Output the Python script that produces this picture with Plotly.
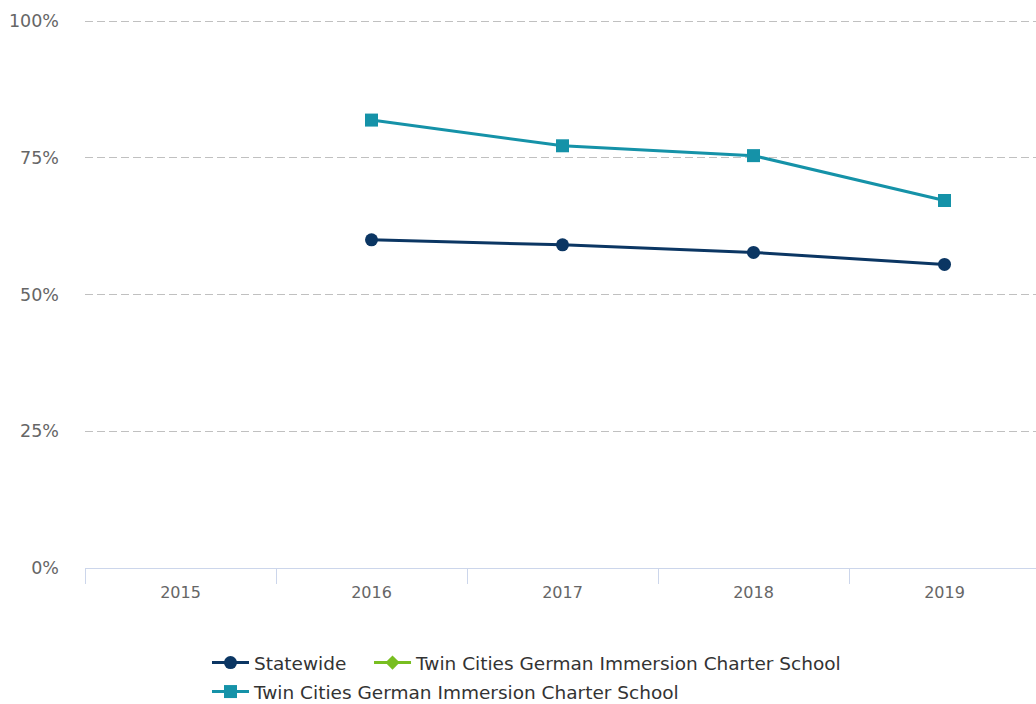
import plotly.graph_objects as go

years = ["2015", "2016", "2017", "2018", "2019"]
statewide = [None, 60.0, 59.1, 57.7, 55.5]
school_green = [None, None, None, None, None]
school_teal = [None, 81.9, 77.2, 75.4, 67.2]
y_ticks = [0, 25, 50, 75, 100]
y_labels = ["0%", "25%", "50%", "75%", "100%"]

NAVY = "#0b3663"
GREEN = "#78be20"
TEAL = "#1592a8"
FONT = "DejaVu Sans"

fig = go.Figure()
fig.add_trace(go.Scatter(
    x=years, y=statewide, name="Statewide", mode="lines+markers",
    line=dict(color=NAVY, width=3), marker=dict(symbol="circle", size=13, color=NAVY),
    legend="legend",
))
fig.add_trace(go.Scatter(
    x=years, y=school_green, name="Twin Cities German Immersion Charter School",
    mode="lines+markers", line=dict(color=GREEN, width=3),
    marker=dict(symbol="diamond", size=11, color=GREEN), legend="legend3",
))
fig.add_trace(go.Scatter(
    x=years, y=school_teal, name="Twin Cities German Immersion Charter School",
    mode="lines+markers", line=dict(color=TEAL, width=3),
    marker=dict(symbol="square", size=13, color=TEAL), legend="legend2",
))

legend_common = dict(
    orientation="h", xanchor="left", yanchor="middle",
    xref="container", yref="container",
    font=dict(family=FONT, size=18.5, color="#333333"),
    bgcolor="rgba(0,0,0,0)", itemclick=False, itemdoubleclick=False,
    itemwidth=37, tracegroupgap=0,
)

fig.update_layout(
    width=1036, height=704,
    margin=dict(l=85, r=0, t=20, b=136, autoexpand=False),
    plot_bgcolor="white", paper_bgcolor="white",
    font=dict(family=FONT),
    showlegend=True,
    legend=dict(x=0.1998, y=0.0582, **legend_common),
    legend3=dict(x=0.3562, y=0.0582, **legend_common),
    legend2=dict(x=0.1998, y=0.0170, **legend_common),
    xaxis=dict(
        type="category", categoryorder="array", categoryarray=years,
        range=[-0.5, 4.479], tickson="boundaries",
        ticks="outside", ticklen=15, tickcolor="#ccd6eb", tickwidth=1,
        showline=True, linecolor="#ccd6eb", linewidth=1,
        showgrid=False, zeroline=False, ticklabelstandoff=10,
        tickfont=dict(family=FONT, size=16, color="#666666"),
    ),
    yaxis=dict(
        range=[0, 100.2], tickmode="array", tickvals=y_ticks, ticktext=y_labels,
        showgrid=True, gridcolor="#c0c0c0", griddash="8px,4px", gridwidth=1,
        zeroline=False, showline=False, ticks="", ticklabelstandoff=25,
        tickfont=dict(family=FONT, size=17.5, color="#666666"),
    ),
)

fig.write_html("out.html")
